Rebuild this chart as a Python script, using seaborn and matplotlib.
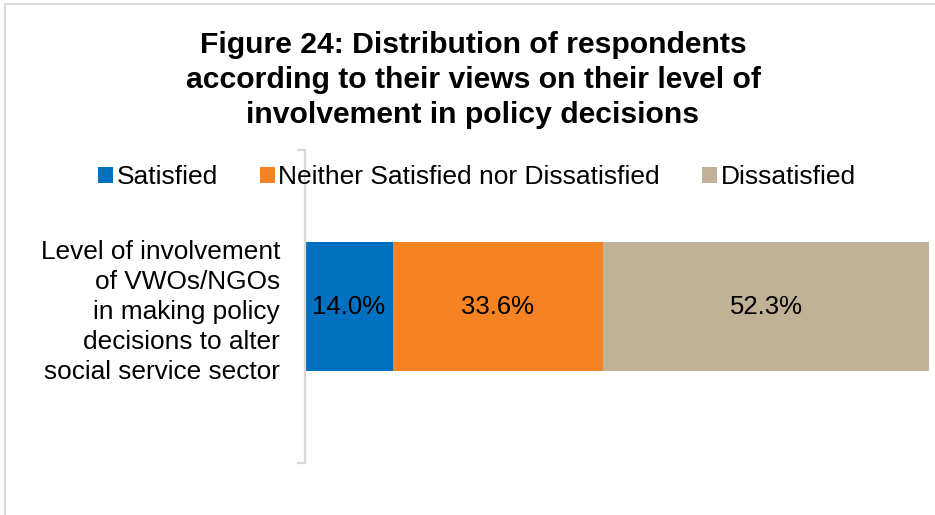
import matplotlib
matplotlib.use("Agg")
import matplotlib.pyplot as plt
from matplotlib.lines import Line2D
from matplotlib.patches import Patch
import numpy as np
import pandas as pd
import seaborn as sns

# Survey data
category = "Level of involvement\nof VWOs/NGOs\nin making policy\ndecisions to alter\nsocial service sector"
responses = ["Satisfied", "Neither Satisfied nor Dissatisfied", "Dissatisfied"]
shares = [14.0, 33.6, 52.3]
colors = ["#0070C0", "#F58223", "#C0B197"]

sns.set_theme(style="white")
plt.rcParams["font.family"] = ["Liberation Sans", "DejaVu Sans"]
plt.rcParams["text.color"] = "black"

fig = plt.figure(figsize=(9.35, 5.15), dpi=100)
ax = fig.add_axes([305 / 935, 1 - 463 / 515, 625 / 935, (463 - 150) / 515])

# Stacked bar: draw cumulative totals from the widest down so each segment shows
cum = np.cumsum(shares)
for resp, total, col in reversed(list(zip(responses, cum, colors))):
    df = pd.DataFrame({"category": [category], "value": [total]})
    sns.barplot(data=df, x="value", y="category", orient="h", color=col,
                saturation=1, width=0.41, ax=ax, linewidth=0)

# Segment labels
starts = cum - np.array(shares)
for s, v in zip(starts, shares):
    ax.text(s + v / 2, 0, f"{v:.1f}%", ha="center", va="center",
            fontsize=18.5, color="black")

ax.set_xlim(0, 100)
ax.set_ylim(0.5, -0.5)
ax.set_xlabel("")
ax.set_ylabel("")
ax.set_xticks([])

for side in ["top", "right", "bottom"]:
    ax.spines[side].set_visible(False)
ax.spines["left"].set_color("#D9D9D9")
ax.spines["left"].set_linewidth(1.6)

ax.set_yticks([0])
ax.set_yticklabels([category], fontsize=18.9, ha="right", multialignment="right",
                   linespacing=1.31)
ax.set_yticks([-0.5, 0.5], minor=True)
ax.tick_params(axis="y", which="major", length=0, pad=18, labelcolor="black")
ax.tick_params(axis="y", which="minor", length=6, width=1.6, color="#D9D9D9",
               direction="out", left=True)

# Title
fig.text(473 / 935, 1 - 80 / 515,
         "Figure 24: Distribution of respondents\naccording to their views on their level of\ninvolvement in policy decisions",
         ha="center", va="center", fontsize=21.7, fontweight="bold", linespacing=1.3,
         color="black")

# Legend
handles = [Patch(facecolor=c, edgecolor="none") for c in colors]
fig.legend(handles, responses, loc="center", ncol=3, frameon=False,
           bbox_to_anchor=(477 / 935, 1 - 177 / 515), fontsize=19,
           handlelength=0.55, handleheight=0.55, handletextpad=0.15,
           columnspacing=1.6, labelcolor="black")

# Chart area border (left and top edges)
fig.add_artist(Line2D([5 / 935, 5 / 935], [0, 1 - 4 / 515], transform=fig.transFigure,
                      color="#D9D9D9", linewidth=1.5))
fig.add_artist(Line2D([5 / 935, 1], [1 - 4 / 515, 1 - 4 / 515], transform=fig.transFigure,
                      color="#D9D9D9", linewidth=1.5))

fig.savefig("out.png", dpi=100)
